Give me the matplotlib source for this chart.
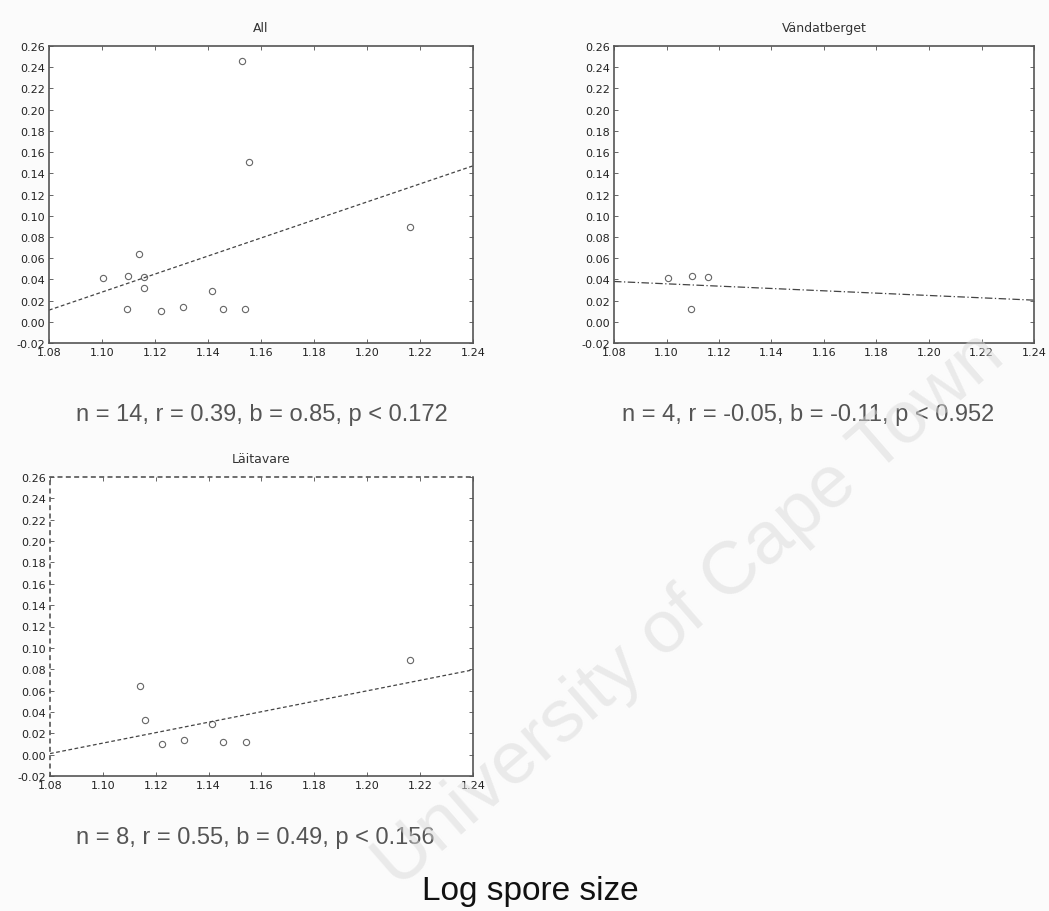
import numpy as np
import matplotlib.pyplot as plt

# log spore size vs response, per site
vand_x = [1.1005, 1.1097, 1.1093, 1.1158]
vand_y = [0.041, 0.043, 0.012, 0.042]

lait_x = [1.1140, 1.1158, 1.1224, 1.1307, 1.1414, 1.1455, 1.1540, 1.2162]
lait_y = [0.064, 0.032, 0.010, 0.014, 0.029, 0.012, 0.012, 0.089]

extra_x = [1.1556, 1.1530]
extra_y = [0.151, 0.246]

all_x = vand_x + lait_x + extra_x
all_y = vand_y + lait_y + extra_y

# regression lines: slope b and value at x = 1.08
fits = {
    "All": (0.85, 0.011),
    "Vändatberget": (-0.11, 0.038),
    "Läitavare": (0.49, 0.001),
}
stats = {
    "All": "n = 14, r = 0.39, b = o.85, p < 0.172",
    "Vändatberget": "n = 4, r = -0.05, b = -0.11, p < 0.952",
    "Läitavare": "n = 8, r = 0.55, b = 0.49, p < 0.156",
}

xticks = np.round(np.arange(1.08, 1.2401, 0.02), 2)
yticks = np.round(np.arange(-0.02, 0.2601, 0.02), 2)

W, H = 1049, 912
fig = plt.figure(figsize=(W / 100, H / 100), dpi=100)
fig.patch.set_facecolor("#fbfbfb")


def rect(l, r, t, b):
    return [l / W, 1 - b / H, (r - l) / W, (b - t) / H]


panels = [
    ("All", all_x, all_y, rect(49, 473, 47, 344), (262, 415)),
    ("Vändatberget", vand_x, vand_y, rect(614, 1034, 47, 344), (808, 415)),
    ("Läitavare", lait_x, lait_y, rect(50, 473, 478, 777), (255, 838)),
]

for name, xs, ys, pos, (tx, ty) in panels:
    ax = fig.add_axes(pos)
    ax.set_facecolor("white")
    ax.plot(xs, ys, "o", ms=4.5, mfc="none", mec="#666666", mew=0.8)
    b, y0 = fits[name]
    lx = np.array([1.08, 1.24])
    ly = y0 + b * (lx - 1.08)
    ls = (0, (3, 2)) if name != "Vändatberget" else (0, (6, 2, 1, 2))
    ax.plot(lx, ly, color="#444444", lw=0.9, ls=ls)
    ax.set_xlim(1.08, 1.24)
    ax.set_ylim(-0.02, 0.26)
    ax.set_xticks(xticks)
    ax.set_yticks(yticks)
    ax.set_xticklabels([f"{v:.2f}" for v in xticks])
    ax.set_yticklabels([f"{v:.2f}" for v in yticks])
    ax.tick_params(direction="in", length=3, width=0.7, top=True, right=True,
                   labelsize=8, labelcolor="#222222", color="#666666", pad=3)
    for sp in ax.spines.values():
        sp.set_color("#555555")
        sp.set_linewidth(1.2)
    if name == "Läitavare":
        for side in ("top", "left"):
            ax.spines[side].set_linestyle((0, (2, 3)))
    ax.set_title(name, fontsize=9, color="#333333", pad=11)
    fig.text(tx / W, 1 - ty / H, stats[name], ha="center", va="center",
             fontsize=17, color="#555555", family="Liberation Sans")

fig.text(530 / W, 1 - 892 / H, "Log spore size", ha="center", va="center",
         fontsize=24, color="#111111", family="Liberation Sans")

# faint diagonal watermark across the lower right
fig.text(690 / W, 1 - 610 / H, "University of Cape Town", ha="center",
         va="center", rotation=41, fontsize=54, color="#d9d9d9", alpha=0.5,
         family="Liberation Sans", zorder=10)

fig.savefig("out.png", dpi=100, facecolor=fig.get_facecolor())
